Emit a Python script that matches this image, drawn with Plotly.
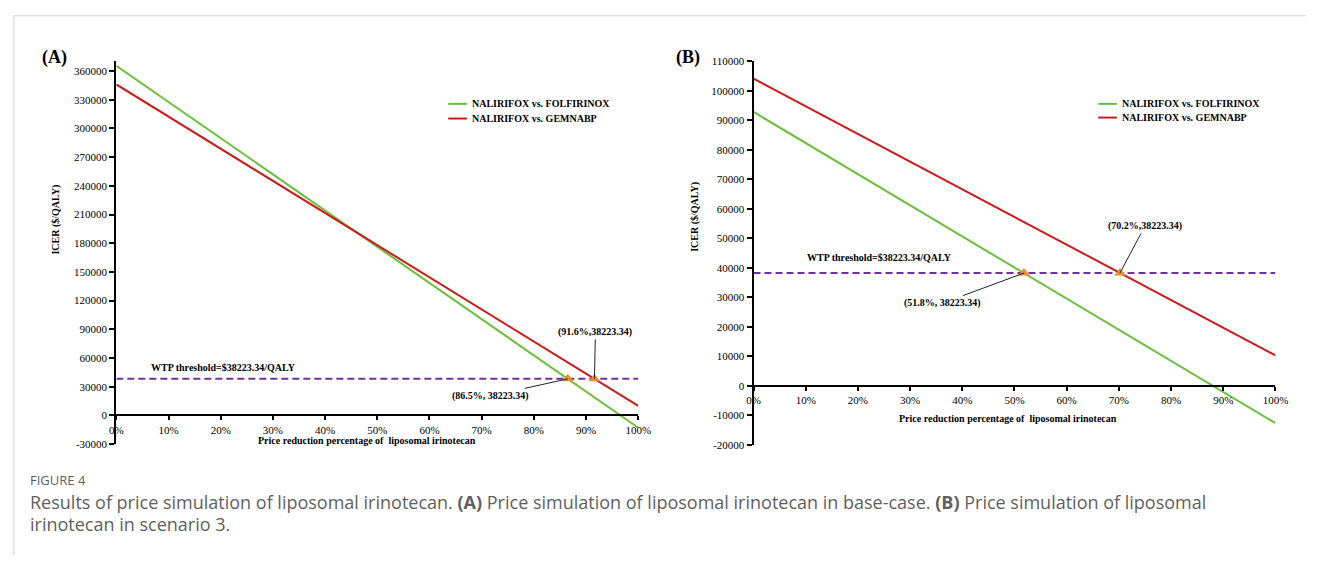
import plotly.graph_objects as go

W, H = 1319, 561

# ---------------- data ----------------
pct = [0, 100]                       # price reduction (%) at line ends
a_folfirinox = [365500, -12900]      # panel A, NALIRIFOX vs. FOLFIRINOX
a_gemnabp = [346000, 10000]          # panel A, NALIRIFOX vs. GEMNABP
b_folfirinox = [92900, -12700]       # panel B
b_gemnabp = [104200, 10300]          # panel B
wtp = 38223.34
a_cross = [86.5, 91.6]
b_cross = [51.8, 70.2]
a_cross_labels = ["(86.5%, 38223.34)", "(91.6%,38223.34)"]
b_cross_labels = ["(51.8%, 38223.34)", "(70.2%,38223.34)"]
x_ticks = [0, 10, 20, 30, 40, 50, 60, 70, 80, 90, 100]
x_ticktext = [f"{v}%" for v in x_ticks]
a_yticks = list(range(-30000, 360001, 30000))
b_yticks = list(range(-20000, 110001, 10000))
a_yrange = [-30000, 370000]
b_yrange = [-20000, 110000]
series_names = ["NALIRIFOX vs. FOLFIRINOX", "NALIRIFOX vs. GEMNABP"]

GREEN = "#6abf3a"
RED = "#cc1a1a"
PURPLE = "#7030a0"
ORANGE = "#f28a30"
SERIF = "Liberation Serif"


def px(x):
    return x / W


def py(y):
    return 1 - y / H


# panel pixel boxes (left, right, top, bottom)
A_box = (111, 641, 56.7, 447.7)
B_box = (758, 1288, 56.7, 448.3)


def zero_pos(box, yr):
    l, r, t, b = box
    frac = (0 - yr[0]) / (yr[1] - yr[0])
    return py(b) + (py(t) - py(b)) * frac


fig = go.Figure()

series_colors = [GREEN, RED]
for xa, ya, vals in (("x", "y", [a_folfirinox, a_gemnabp]), ("x2", "y2", [b_folfirinox, b_gemnabp])):
    for name, color, v in zip(series_names, series_colors, vals):
        fig.add_trace(go.Scatter(x=pct, y=v, mode="lines", name=name, showlegend=False,
                                 line=dict(color=color, width=2), xaxis=xa, yaxis=ya))
    fig.add_trace(go.Scatter(x=[0, 100], y=[wtp, wtp], mode="lines", showlegend=False,
                             line=dict(color=PURPLE, width=2, dash="7px,4px"), xaxis=xa, yaxis=ya))

fig.add_trace(go.Scatter(x=a_cross, y=[wtp] * len(a_cross), mode="markers", showlegend=False,
                         marker=dict(symbol="triangle-up", size=10, color=ORANGE), xaxis="x", yaxis="y"))
fig.add_trace(go.Scatter(x=b_cross, y=[wtp] * len(b_cross), mode="markers", showlegend=False,
                         marker=dict(symbol="triangle-up", size=10, color=ORANGE), xaxis="x2", yaxis="y2"))

tickfont = dict(family=SERIF, size=11, color="black")


def xaxis(box, yr):
    return dict(domain=[px(box[0]), px(box[1])], range=[0, 100], anchor="free",
                position=zero_pos(box, yr), showline=True, linecolor="black", linewidth=2,
                ticks="outside", ticklen=4, tickwidth=2, tickcolor="black",
                tickvals=x_ticks, ticktext=x_ticktext, tickfont=tickfont,
                showgrid=False, zeroline=False, fixedrange=True)


def yaxis(box, yr, ticks, xname):
    return dict(domain=[py(box[3]), py(box[2])], range=yr, anchor=xname,
                showline=True, linecolor="black", linewidth=2,
                ticks="outside", ticklen=5, tickwidth=2, tickcolor="black",
                tickvals=ticks, ticktext=[str(v) for v in ticks], tickfont=tickfont,
                showgrid=False, zeroline=False, fixedrange=True)


fig.update_layout(
    width=W, height=H,
    margin=dict(l=0, r=0, t=0, b=0),
    paper_bgcolor="white", plot_bgcolor="white",
    xaxis=xaxis(A_box, a_yrange),
    yaxis=yaxis(A_box, a_yrange, a_yticks, "x"),
    xaxis2=xaxis(B_box, b_yrange),
    yaxis2=yaxis(B_box, b_yrange, b_yticks, "x2"),
    showlegend=False,
)

bold = dict(family=SERIF, size=10, color="black", weight="bold")
ann = []
# panel labels
ann.append(dict(text="(A)", x=px(48), y=py(53), font=dict(family=SERIF, size=18, color="black", weight="bold")))
ann.append(dict(text="(B)", x=px(691), y=py(53), font=dict(family=SERIF, size=18, color="black", weight="bold")))
# y titles
ann.append(dict(text="ICER ($/QALY)", x=px(50), y=py(218), textangle=-90, font=bold))
ann.append(dict(text="ICER ($/QALY)", x=px(699), y=py(215), textangle=-90, font=bold))
# x titles
ann.append(dict(text="Price reduction percentage of  liposomal irinotecan", x=px(366), y=py(444), font=bold))
ann.append(dict(text="Price reduction percentage of  liposomal irinotecan", x=px(1016), y=py(421.7), font=bold))
# WTP labels
ann.append(dict(text="WTP threshold=$38223.34/QALY", x=px(220), y=py(369), font=bold))
ann.append(dict(text="WTP threshold=$38223.34/QALY", x=px(886), y=py(257), font=bold))
for a in ann:
    a.update(xref="paper", yref="paper", showarrow=False, xanchor="center", yanchor="middle")

# legends (line sample + label) for each panel
legend_pos = [(448, 470, [100, 115]), (1108, 1130, [100, 114])]
for lx, tx, rows in legend_pos:
    for name, color, ry in zip(series_names, series_colors, rows):
        fig.add_shape(type="line", xref="paper", yref="paper", x0=px(lx), x1=px(lx + 19),
                      y0=py(ry), y1=py(ry), line=dict(color=color, width=2))
        ann.append(dict(text=name, x=px(tx), y=py(ry), xref="paper", yref="paper", showarrow=False,
                        xanchor="left", yanchor="middle", font=bold))

# crossing-point callouts (data coords)
arrow = dict(showarrow=True, arrowhead=0, arrowwidth=1, arrowcolor="#222", font=bold)
ann.append(dict(text=a_cross_labels[0], x=a_cross[0], y=wtp, xref="x", yref="y", ax=-77, ay=17, **arrow))
ann.append(dict(text=a_cross_labels[1], x=a_cross[1], y=wtp, xref="x", yref="y", ax=1, ay=-47, **arrow))
ann.append(dict(text=b_cross_labels[0], x=b_cross[0], y=wtp, xref="x2", yref="y2", ax=-81, ay=30, **arrow))
ann.append(dict(text=b_cross_labels[1], x=b_cross[1], y=wtp, xref="x2", yref="y2", ax=25, ay=-47, **arrow))

# caption
cap_font = dict(family="Open Sans", size=18, color="#5f5f5f")
ann.append(dict(text="FIGURE 4", x=px(21), y=py(484), xref="paper", yref="paper", showarrow=False,
                xanchor="left", yanchor="middle",
                font=dict(family="Open Sans", size=13, color="#5f5f5f")))
ann.append(dict(text="Results of price simulation of liposomal irinotecan. <b>(A)</b> Price simulation of liposomal "
                     "irinotecan in base-case. <b>(B)</b> Price simulation of liposomal",
                x=px(21), y=py(507), xref="paper", yref="paper", showarrow=False,
                xanchor="left", yanchor="middle", font=cap_font))
ann.append(dict(text="irinotecan in scenario 3.", x=px(21), y=py(529), xref="paper", yref="paper",
                showarrow=False, xanchor="left", yanchor="middle", font=cap_font))
fig.update_layout(annotations=ann)

# page frame lines
fig.add_shape(type="line", xref="paper", yref="paper", x0=px(7), x1=px(7), y0=py(10), y1=0,
              line=dict(color="#d0d0d0", width=1))
fig.add_shape(type="line", xref="paper", yref="paper", x0=px(7), x1=1, y0=py(10), y1=py(10),
              line=dict(color="#d0d0d0", width=1))

fig.write_html("out.html", config={"displayModeBar": False},
               post_script="document.body.style.margin='0';document.body.style.overflow='hidden';")
